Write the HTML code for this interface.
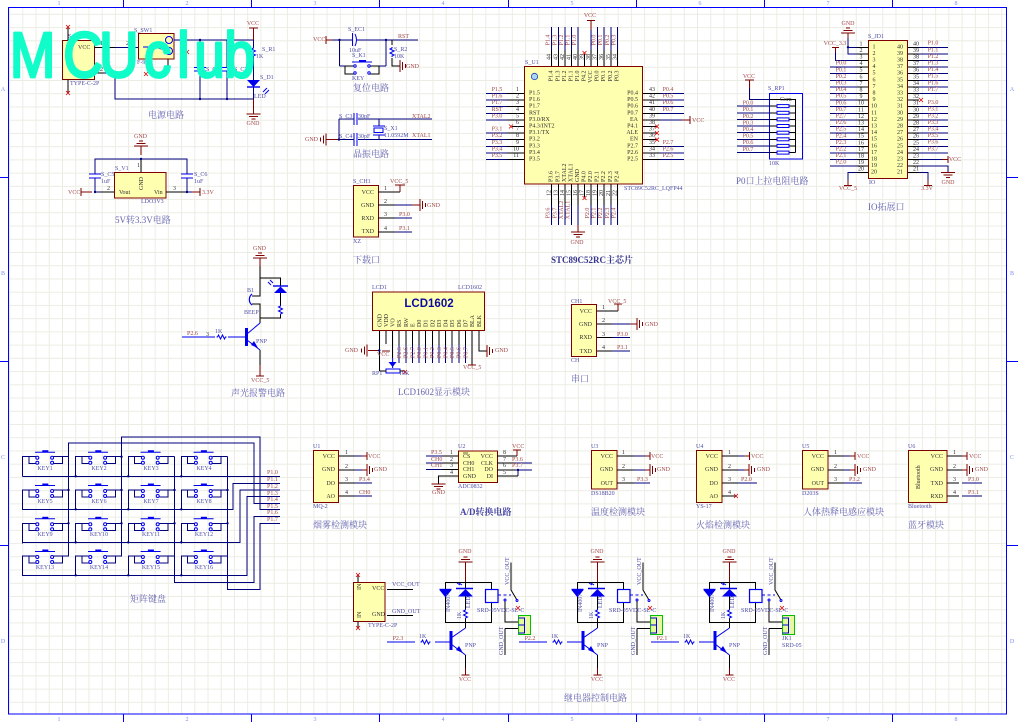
<!DOCTYPE html>
<html><head><meta charset="utf-8"><style>
html,body{margin:0;padding:0;background:#fff}
svg{display:block}
text{font-family:"Liberation Serif","Noto Serif CJK SC",serif;font-size:6px}
.n text,text.n{fill:#a04848}
.d text,text.d{fill:#5050a8}
.l text,text.l{fill:#303030}
.h text,text.h{fill:#6464b0;font-size:9px}
.f text{fill:#7a90f0;font-size:6px}
.w{stroke:#00007f;fill:none;stroke-width:1;shape-rendering:crispEdges}
.k{stroke:#000;fill:none;stroke-width:1;shape-rendering:crispEdges}
.m{stroke:#7f0000;fill:none;stroke-width:1;shape-rendering:crispEdges}
.b{stroke:#0000ee;fill:none;stroke-width:1}
.x{stroke:#e00000;fill:none;stroke-width:.8}
.y{fill:#ffffb0;stroke:#7f0000;stroke-width:1;shape-rendering:crispEdges}
.j{fill:#00007f}
.tb{fill:#0000ee;stroke:none}
</style></head><body>
<svg width="1018" height="722" viewBox="0 0 1018 722" xmlns="http://www.w3.org/2000/svg">
<defs>
<pattern id="g" x="9.07" y="0.64" width="13.23" height="13.23" patternUnits="userSpaceOnUse"><path d="M0 .5H13.23M.5 0V13.23" stroke="#ecece4" fill="none"/></pattern>
<path id="gd" class="m" d="M-7 0H7M-4.5 2.5H4.5M-2 5H2"/>
<path id="gu" class="m" d="M-7 0H7M-4.5 -2.5H4.5M-2 -5H2"/>
<path id="gr" class="m" d="M0 -6V6M2.7 -4V4M5.4 -2V2"/>
<path id="gl" class="m" d="M0 -6V6M-2.7 -4V4M-5.4 -2V2"/>
<path id="rh" class="b" d="M-5 0H-4L-3 -2L-1 2L1 -2L3 2L4 0H5"/>
<path id="rv" class="b" d="M0 -5V-4L-2 -3L2 -1L-2 1L2 3L0 4V5"/>
<path id="xx" class="x" d="M-2 -2L2 2M-2 2L2 -2"/>
<circle id="dot" r="1.2" class="j"/>
<g id="key">
<path class="w" d="M0 20V0H14M6.3 0V7H14M31 0H46.3M39.6 0V7H31"/>
<path class="b" d="M12.3 -4.5H32.3"/><path class="b" stroke-width="2" d="M19.6 -5.5H25.6" style="stroke-width:2"/>
<g class="b" style="fill:#fff"><circle cx="14.6" cy="1" r="1.5"/><circle cx="14.6" cy="6" r="1.5"/><circle cx="29.4" cy="1" r="1.5"/><circle cx="29.4" cy="6" r="1.5"/></g>
</g>
<g id="relay">
<path class="m" d="M465.5 562V582"/>
<path class="k" d="M445.5 597V622.5H491.5V602.5M491.5 589.5V582.3H445.5V590M465.5 582.3V589M465.5 596V610M465.5 618V628M465.5 655V675"/>
<path class="m" d="M465.5 668V675"/>
<use href="#gu" x="465.5" y="562"/>
<path class="m" d="M461.5 675H469.5"/>
<path class="tb" d="M439.5 590H451.5L445.5 597.5Z"/><path class="b" d="M439.5 589.5H451.5" style="stroke-width:1.4"/>
<path class="tb" d="M465.5 589L473 596.5H458Z"/><path class="b" d="M456 588.5H473" style="stroke-width:1.4"/>
<path class="b" d="M457 583L460 585M459 583L462 585"/>
<rect class="b" x="485.5" y="589.5" width="12.5" height="13" style="stroke-width:1.2"/>
<use href="#rv" x="465.5" y="614"/>
<path class="b" style="stroke-width:3" d="M451 631V650"/>
<path class="b" d="M387 642H415M435 642H451M451 638L465.5 628M451 644L465.5 655"/>
<path class="tb" d="M463 653L456 650L459 646Z"/>
<use href="#rh" x="425.5" y="642"/>
<path class="b" style="stroke-dasharray:3 2.5" d="M498 595H511"/>
<path stroke="#000" fill="none" d="M511 562.5V590L517 600"/>
<path class="k" d="M505 601V622H518.5M505 628.5H518.5M505 628.5V655"/>
<circle class="b" cx="505" cy="600" r="1" style="fill:#fff"/><circle class="b" cx="517" cy="600.5" r="1" style="fill:#fff"/>
<use href="#xx" x="518" y="608"/>
<rect x="518.5" y="615.5" width="12" height="19" fill="#e8f8a0" stroke="#00c000" stroke-width="1"/>
<path class="b" d="M518.5 618H524.5V633H518.5M518.5 625H524.5"/>
</g>
</defs>

<rect width="1018" height="722" fill="#fff"/>
<rect x="8.5" y="7.5" width="998" height="706.5" fill="url(#g)" stroke="#0000ff" stroke-width="1"/>
<path stroke="#0000ff" fill="none" d="M123.5 0V7M251.5 0V7M379.5 0V7M508.5 0V7M636.5 0V7M764.5 0V7M892.5 0V7M123.5 714V722M251.5 714V722M379.5 714V722M508.5 714V722M636.5 714V722M764.5 714V722M892.5 714V722M0 177.5H8M0 361.5H8M0 545.5H8M1006 177.5H1018M1006 361.5H1018M1006 545.5H1018"/>
<g class="f" text-anchor="middle">
<text x="59" y="5">1</text><text x="187" y="5">2</text><text x="315" y="5">3</text><text x="443" y="5">4</text><text x="572" y="5">5</text><text x="700" y="5">6</text><text x="828" y="5">7</text><text x="956" y="5">8</text>
<text x="59" y="721">1</text><text x="187" y="721">2</text><text x="315" y="721">3</text><text x="443" y="721">4</text><text x="572" y="721">5</text><text x="700" y="721">6</text><text x="828" y="721">7</text><text x="956" y="721">8</text>
<text x="3" y="91">A</text><text x="3" y="275">B</text><text x="3" y="459">C</text><text x="3" y="643">D</text>
<text x="1012" y="91">A</text><text x="1012" y="275">B</text><text x="1012" y="459">C</text><text x="1012" y="643">D</text>
</g>

<!-- power -->
<rect class="y" x="62.5" y="40.5" width="32" height="39"/>
<rect class="y" x="138.5" y="33.5" width="35.5" height="25.5"/>
<path class="w" d="M94.5 47.5H138M94.5 73H115V99H254M174 40H254M200 40V67.5M200 71V99M227 40V67.5M227 71V99"/>
<path class="k" d="M68 27V40M68 80V93M94.5 47.5H115M94.5 73H104M168 59V70"/>
<path class="b" d="M194 67.5H206M194 71H206M222 67.5H232M222 71H232M143 47H155L165 50"/>
<circle class="b" cx="169" cy="40" r="3.5"/><circle class="b" cx="169" cy="51" r="3.5"/>
<use href="#dot" x="200" y="40"/><use href="#dot" x="200" y="99"/><use href="#dot" x="227" y="99"/>
<use href="#xx" x="68" y="27"/><use href="#xx" x="68" y="93"/><use href="#xx" x="146" y="74"/><use href="#xx" x="187" y="52"/>
<path class="m" d="M249 28H258M253.5 28V40M253.5 99V114"/>
<path class="w" d="M253.5 40V47M253.5 57V99"/>
<use href="#rv" x="253.5" y="52"/>
<path class="tb" d="M247 80H260L253.5 87Z"/><path class="b" d="M247 87H260" style="stroke-width:1.4"/>
<path class="b" d="M263 92L267 88M265 94L269 90"/>
<use href="#gd" x="253.5" y="114"/>
<g class="d"><text x="68" y="38">S_T1</text><text x="134" y="32">S_SW1</text><text x="70" y="85">TYPE-C-2P</text><text x="137" y="64">F-90</text><text x="206" y="71">S_C1</text><text x="234" y="71">S_C7</text><text x="262" y="51">S_R1</text><text x="256" y="58">1K</text><text x="260" y="79">S_D1</text><text x="254" y="98">LED</text></g>
<g class="l"><text x="78" y="49">VCC</text><text x="100" y="45">1</text><text x="126" y="45">2</text><text x="100" y="71">2</text></g>
<g class="n" text-anchor="middle"><text x="253" y="25">VCC</text><text x="253" y="125">GND</text></g>
<text class="h" x="148" y="118">电源电路</text>

<!-- LDO -->
<rect class="y" x="114.5" y="172.5" width="51.5" height="25.5"/>
<path class="w" d="M95 192V178M95 174V159H187V174M187 178V192M95 192H114M166 192H200M141 159V172"/>
<path class="k" d="M100 192H114M166 192H187M141 160V172"/>
<path class="b" d="M89 174H101M89 178H101M181 174H193M181 178H193"/>
<path class="m" d="M81 188V196M81 192H92M200 188V196M192 192H200M141 146V155"/>
<use href="#gu" x="141" y="146"/>
<use href="#dot" x="141" y="159"/><use href="#dot" x="95" y="192"/><use href="#dot" x="187" y="192"/>
<g class="d"><text x="115" y="170">S_V1</text><text x="141" y="203">LDO3V3</text><text x="101" y="176">S_C5</text><text x="101" y="183">1uF</text><text x="194" y="176">S_C6</text><text x="194" y="183">1uF</text></g>
<g class="l"><text x="119" y="194">Vout</text><text x="154" y="194">Vin</text><text x="107" y="190">2</text><text x="173" y="190">3</text><text x="137" y="167">1</text><text transform="translate(143 190) rotate(-90)">GND</text></g>
<g class="n"><text x="68" y="194">VCC</text><text x="202" y="194">3.3V</text><text x="134" y="138">GND</text></g>
<text class="h" x="115" y="223">5V转3.3V电路</text>

<!-- reset -->
<path class="m" d="M326 36V44M326 40H338"/>
<path class="w" d="M332 40H352M357 40H418M339.5 40V66M386 40V66M339.5 66H345M379 66H386"/>
<path class="k" d="M345 66H354M345 66V74H354M369 66H379V74H369M392 40V45M392 58V66H400"/>
<path class="b" d="M352.5 33V46M355 34Q358 40 355 46M352 62H372"/>
<path class="b" style="stroke-width:2" d="M359 61H366"/>
<g class="b" style="fill:#fff"><circle cx="355" cy="66" r="1.2"/><circle cx="355" cy="73" r="1.2"/><circle cx="369" cy="66" r="1.2"/><circle cx="369" cy="73" r="1.2"/></g>
<use href="#rv" x="392" y="52"/>
<use href="#gr" x="400" y="66"/>
<use href="#dot" x="339.5" y="40"/><use href="#dot" x="386" y="40"/>
<g class="d"><text x="348" y="31">S_EC1</text><text x="349" y="52">10uF</text><text x="352" y="57">S_K1</text><text x="352" y="80">KEY</text><text x="394" y="51">S_R2</text><text x="394" y="58">10K</text></g>
<g class="n"><text x="313" y="41">VCC</text><text x="398" y="38">RST</text><text x="406" y="68">GND</text></g>
<text class="h" x="353" y="91">复位电路</text>

<!-- crystal -->
<path class="w" d="M339 119H354M358 119H432M339 119V139.5M326 139.5H354M358 139.5H432M379 119V126M379 135V139.5"/>
<path class="b" d="M354 113V125M357 113V125M354 133V146M357 133V146M373 126H385M373 135H385"/>
<rect class="b" x="374" y="128" width="9" height="4.5"/>
<use href="#gl" x="326" y="139.5"/><path class="m" d="M326 139.5H339"/>
<use href="#dot" x="339" y="139.5"/>
<g class="d"><text x="339" y="118">S_C3</text><text x="358" y="118">30pF</text><text x="339" y="138">S_C4</text><text x="358" y="138">30pF</text><text x="384" y="130">S_X1</text><text x="384" y="137">11.0592M</text></g>
<g class="n"><text x="412" y="118">XTAL2</text><text x="412" y="137">XTAL1</text><text x="305" y="141">GND</text></g>
<text class="h" x="353" y="157">晶振电路</text>

<!-- download -->
<rect class="y" x="353.5" y="185.5" width="25" height="51.5"/>
<path class="k" d="M378 192H400M378 205H395M378 218H395M378 232H395"/>
<path class="w" d="M395 205H420M395 218H412M395 232H412"/>
<path class="m" d="M395 185H405M400 185V192M412 205H420"/>
<use href="#gr" x="420" y="205"/>
<g class="d"><text x="353" y="183">S_CH1</text><text x="353" y="243">XZ</text></g>
<g class="l" text-anchor="end"><text x="374" y="194">VCC</text><text x="374" y="207">GND</text><text x="374" y="220">RXD</text><text x="374" y="233">TXD</text></g>
<g class="l"><text x="384" y="190">1</text><text x="384" y="203">2</text><text x="384" y="216">3</text><text x="384" y="230">4</text></g>
<g class="n"><text x="390" y="183">VCC_5</text><text x="427" y="207">GND</text><text x="399" y="216">P3.0</text><text x="399" y="230">P3.1</text></g>
<text class="h" x="353" y="263">下载口</text>

<!-- MCU -->
<rect class="y" x="524.5" y="66.5" width="118" height="117.5"/>
<circle cx="534.5" cy="76.5" r="3.2" fill="#a8d8f8" stroke="#2040c0" stroke-width=".8"/>
<path class="w" d="M486 93.5H507M486 100.1H507M486 106.7H507M486 113.3H507M486 119.9H507M486 133.1H507M486 139.7H507M486 146.3H507M486 152.9H507M486 159.5H507M660 93.5H684M660 100.1H684M660 106.7H684M660 113.3H684M660 146.3H684M660 152.9H684M660 159.5H684M660 119.9H682"/>
<path class="k" d="M507 93.5H524M507 100.1H524M507 106.7H524M507 113.3H524M507 119.9H524M512 126.5H524M507 133.1H524M507 139.7H524M507 146.3H524M507 152.9H524M507 159.5H524M643 93.5H660M643 100.1H660M643 106.7H660M643 113.3H660M643 119.9H660M643 126.5H657M643 133.1H657M643 139.7H657M643 146.3H660M643 152.9H660M643 159.5H660"/>
<path class="m" d="M682 119.9H690M690 116V124M587 20.5H595M591.1 20.5V30"/>
<use href="#xx" x="511" y="126.5"/><use href="#xx" x="657" y="126.5"/><use href="#xx" x="657" y="133.1"/><use href="#xx" x="657" y="139.7"/>
<path class="w" d="M551.7 27V50M558.3 27V50M564.8 27V50M571.4 27V50M578 27V50M597.6 27V50M604.2 27V50M610.8 27V50M617.3 27V50M591.1 30V50M551.7 205V225M558.3 205V225M564.8 205V225M571.4 205V225M578 205V225M591.1 205V225M597.6 205V225M604.2 205V225M610.8 205V225M617.3 205V225"/>
<path class="k" d="M551.7 50V66M558.3 50V66M564.8 50V66M571.4 50V66M578 50V66M584.5 54V66M591.1 50V66M597.6 50V66M604.2 50V66M610.8 50V66M617.3 50V66M551.7 184V205M558.3 184V205M564.8 184V205M571.4 184V205M578 184V205M584.5 184V197M591.1 184V205M597.6 184V205M604.2 184V205M610.8 184V205M617.3 184V205"/>
<path class="m" d="M578 225V232"/><use href="#gd" x="578" y="232"/>
<use href="#xx" x="584.5" y="53"/><use href="#xx" x="584.5" y="198"/>
<g class="d"><text x="525" y="64">S_U1</text><text x="624" y="190">STC89C52RC_LQFP44</text></g>
<g class="n" text-anchor="middle">
<text x="590" y="17">VCC</text><text x="577" y="244">GND</text><text x="692" y="122" text-anchor="start">VCC</text>
<text x="497" y="91">P1.5</text><text x="497" y="97.6">P1.6</text><text x="497" y="104.2">P1.7</text><text x="497" y="110.8">RST</text><text x="497" y="117.4">P3.0</text><text x="497" y="130.6">P3.1</text><text x="497" y="137.2">P3.2</text><text x="497" y="143.8">P3.3</text><text x="497" y="150.4">P3.4</text><text x="497" y="157">P3.5</text>
<text x="668" y="91">P0.4</text><text x="668" y="97.6">P0.5</text><text x="668" y="104.2">P0.6</text><text x="668" y="110.8">P0.7</text><text x="668" y="143.8">P2.7</text><text x="668" y="150.4">P2.6</text><text x="668" y="157">P2.5</text>
<text transform="translate(549.7 40) rotate(-90)">P1.4</text><text transform="translate(556.3 40) rotate(-90)">P1.3</text><text transform="translate(562.8 40) rotate(-90)">P1.2</text><text transform="translate(569.4 40) rotate(-90)">P1.1</text><text transform="translate(576 40) rotate(-90)">P1.0</text><text transform="translate(595.6 40) rotate(-90)">P0.0</text><text transform="translate(602.2 40) rotate(-90)">P0.1</text><text transform="translate(608.8 40) rotate(-90)">P0.2</text><text transform="translate(615.3 40) rotate(-90)">P0.3</text>
<text transform="translate(549.7 213) rotate(-90)">P3.6</text><text transform="translate(556.3 213) rotate(-90)">P3.7</text><text transform="translate(562.8 210) rotate(-90)">XTAL2</text><text transform="translate(569.4 210) rotate(-90)">XTAL1</text><text transform="translate(589.1 213) rotate(-90)">P2.0</text><text transform="translate(595.6 213) rotate(-90)">P2.1</text><text transform="translate(602.2 213) rotate(-90)">P2.2</text><text transform="translate(608.8 213) rotate(-90)">P2.3</text><text transform="translate(615.3 213) rotate(-90)">P2.4</text>
</g>
<g class="l">
<text x="529" y="94.5">P1.5</text><text x="529" y="101.1">P1.6</text><text x="529" y="107.7">P1.7</text><text x="529" y="114.3">RST</text><text x="529" y="120.9">P3.0/RX</text><text x="529" y="127.5">P4.3/INT2</text><text x="529" y="134.1">P3.1/TX</text><text x="529" y="140.7">P3.2</text><text x="529" y="147.3">P3.3</text><text x="529" y="153.9">P3.4</text><text x="529" y="160.5">P3.5</text>
<g text-anchor="end"><text x="638" y="94.5">P0.4</text><text x="638" y="101.1">P0.5</text><text x="638" y="107.7">P0.6</text><text x="638" y="114.3">P0.7</text><text x="638" y="120.9">EA</text><text x="638" y="127.5">P4.1</text><text x="638" y="134.1">ALE</text><text x="638" y="140.7">EN</text><text x="638" y="147.3">P2.7</text><text x="638" y="153.9">P2.6</text><text x="638" y="160.5">P2.5</text>
<text x="519" y="91">1</text><text x="519" y="97.6">2</text><text x="519" y="104.2">3</text><text x="519" y="110.8">4</text><text x="519" y="117.4">5</text><text x="519" y="124">6</text><text x="519" y="130.6">7</text><text x="519" y="137.2">8</text><text x="519" y="143.8">9</text><text x="519" y="150.4">10</text><text x="519" y="157">11</text>
<text x="655" y="91">43</text><text x="655" y="97.6">42</text><text x="655" y="104.2">41</text><text x="655" y="110.8">40</text><text x="655" y="117.4">39</text><text x="655" y="124">38</text><text x="655" y="130.6">37</text><text x="655" y="137.2">36</text><text x="655" y="143.8">35</text><text x="655" y="150.4">34</text><text x="655" y="157">33</text>
<text transform="translate(552.7 70.5) rotate(-90)">P1.4</text><text transform="translate(559.3 70.5) rotate(-90)">P1.3</text><text transform="translate(565.8 70.5) rotate(-90)">P1.2</text><text transform="translate(572.4 70.5) rotate(-90)">P1.1</text><text transform="translate(579 70.5) rotate(-90)">P1.0</text><text transform="translate(585.5 70.5) rotate(-90)">P4.2</text><text transform="translate(592.1 70.5) rotate(-90)">VCC</text><text transform="translate(598.6 70.5) rotate(-90)">P0.0</text><text transform="translate(605.2 70.5) rotate(-90)">P0.1</text><text transform="translate(611.8 70.5) rotate(-90)">P0.2</text><text transform="translate(618.3 70.5) rotate(-90)">P0.3</text>
</g>
<text transform="translate(552.7 182) rotate(-90)">P3.6</text><text transform="translate(559.3 182) rotate(-90)">P3.7</text><text transform="translate(565.8 182) rotate(-90)">XTAL2</text><text transform="translate(572.4 182) rotate(-90)">XTAL1</text><text transform="translate(579 182) rotate(-90)">GND</text><text transform="translate(585.5 182) rotate(-90)">P4.0</text><text transform="translate(592.1 182) rotate(-90)">P2.0</text><text transform="translate(598.6 182) rotate(-90)">P2.1</text><text transform="translate(605.2 182) rotate(-90)">P2.2</text><text transform="translate(611.8 182) rotate(-90)">P2.3</text><text transform="translate(618.3 182) rotate(-90)">P2.4</text>
<g text-anchor="middle">
<text transform="translate(550.7 57) rotate(-90)">44</text><text transform="translate(557.3 57) rotate(-90)">43</text><text transform="translate(563.8 57) rotate(-90)">42</text><text transform="translate(570.4 57) rotate(-90)">41</text><text transform="translate(577 57) rotate(-90)">40</text><text transform="translate(583.5 57) rotate(-90)">39</text><text transform="translate(590.1 57) rotate(-90)">38</text><text transform="translate(596.6 57) rotate(-90)">37</text><text transform="translate(603.2 57) rotate(-90)">36</text><text transform="translate(609.8 57) rotate(-90)">35</text><text transform="translate(616.3 57) rotate(-90)">34</text>
<text transform="translate(550.7 193) rotate(-90)">12</text><text transform="translate(557.3 193) rotate(-90)">13</text><text transform="translate(563.8 193) rotate(-90)">14</text><text transform="translate(570.4 193) rotate(-90)">15</text><text transform="translate(577 193) rotate(-90)">16</text><text transform="translate(583.5 193) rotate(-90)">17</text><text transform="translate(590.1 193) rotate(-90)">18</text><text transform="translate(596.6 193) rotate(-90)">19</text><text transform="translate(603.2 193) rotate(-90)">20</text><text transform="translate(609.8 193) rotate(-90)">21</text><text transform="translate(616.3 193) rotate(-90)">22</text>
</g>
</g>
<text class="h" x="551" y="263" style="fill:#34348c;font-weight:bold">STC89C52RC主芯片</text>

<!-- RP1 -->
<rect class="b" x="769.5" y="93.5" width="33" height="65.5" style="stroke-width:1"/>
<path class="m" d="M745 80H754M749.5 80V88"/>
<path class="w" d="M749.5 88V99.5H770M737 106.1H770M737 112.8H770M737 119.4H770M737 126H770M737 132.7H770M737 139.3H770M737 145.9H770M737 152.6H770"/>
<path class="k" d="M770 99.5H795.5V152.6M770 106.1H777M770 112.8H777M770 119.4H777M770 126H777M770 132.7H777M770 139.3H777M770 145.9H777M770 152.6H777M789 106.1H795.5M789 112.8H795.5M789 119.4H795.5M789 126H795.5M789 132.7H795.5M789 139.3H795.5M789 145.9H795.5M789 152.6H795.5"/>
<g class="b"><rect x="777" y="104.6" width="12" height="3"/><rect x="777" y="111.3" width="12" height="3"/><rect x="777" y="117.9" width="12" height="3"/><rect x="777" y="124.5" width="12" height="3"/><rect x="777" y="131.2" width="12" height="3"/><rect x="777" y="137.8" width="12" height="3"/><rect x="777" y="144.4" width="12" height="3"/><rect x="777" y="151.1" width="12" height="3"/></g>
<g class="d"><text x="768" y="90">S_RP1</text><text x="769" y="165">10K</text></g>
<text class="l" x="780" y="101">Com</text>
<g class="n" text-anchor="middle"><text x="749" y="78">VCC</text><text x="748" y="104.6">P0.0</text><text x="748" y="111.2">P0.1</text><text x="748" y="117.8">P0.2</text><text x="748" y="124.4">P0.3</text><text x="748" y="131">P0.4</text><text x="748" y="137.6">P0.5</text><text x="748" y="144.2">P0.6</text><text x="748" y="150.8">P0.7</text></g>
<text class="h" x="736" y="184">P0口上拉电阻电路</text>

<!-- JD1 -->
<rect class="y" x="868.5" y="40.5" width="39" height="138"/>
<path class="w" d="M830 67.1H857M830 73.7H857M830 80.3H857M830 86.9H857M830 93.5H857M830 100.1H857M830 106.7H857M830 113.3H857M830 119.9H857M830 126.5H857M830 133.1H857M830 139.7H857M830 146.3H857M830 152.9H857M830 159.5H857M830 166.1H857M919 47.3H948M919 53.9H948M919 60.5H948M919 67.1H948M919 73.7H948M919 80.3H948M919 86.9H948M919 93.5H948M919 106.7H948M919 113.3H948M919 119.9H948M919 126.5H948M919 133.1H948M919 139.7H948M919 146.3H948M919 152.9H948M919 159.5H942M919 166.1H948V172M848 38V53.9H857M848 47.3H857M835.5 52V60.5H857M857 172.7H848V180M919 172.7H928V180"/>
<path class="k" d="M857 47.3H868M857 53.9H868M857 60.5H868M857 67.1H868M857 73.7H868M857 80.3H868M857 86.9H868M857 93.5H868M857 100.1H868M857 106.7H868M857 113.3H868M857 119.9H868M857 126.5H868M857 133.1H868M857 139.7H868M857 146.3H868M857 152.9H868M857 159.5H868M857 166.1H868M857 172.7H868M908 47.3H919M908 53.9H919M908 60.5H919M908 67.1H919M908 73.7H919M908 80.3H919M908 86.9H919M908 93.5H919M908 100.1H919M908 106.7H919M908 113.3H919M908 119.9H919M908 126.5H919M908 133.1H919M908 139.7H919M908 146.3H919M908 152.9H919M908 159.5H919M908 166.1H919M908 172.7H919"/>
<use href="#dot" x="848" y="47.3"/><use href="#xx" x="921" y="100"/>
<use href="#gu" x="848" y="33"/>
<use href="#gd" x="948" y="172.5"/>
<path class="m" d="M848 33V38M832 47.5H839M835.5 47.5V52M844 185.5H852M848 180V185.5M924 185.5H932M928 180V185.5M942 159.5H948M948 156V163"/>
<g class="d"><text x="868" y="38">S_JD1</text><text x="869" y="184">IO</text></g>
<g class="n" text-anchor="middle"><text x="848" y="25">GND</text><text x="835" y="45">VCC_3.3</text><text x="948" y="184">GND</text><text x="848" y="190">VCC_5</text><text x="927" y="190">3.3V</text><text x="955" y="161">VCC</text>
<text x="841" y="64.7">P0.0</text><text x="841" y="71.3">P0.1</text><text x="841" y="77.9">P0.2</text><text x="841" y="84.5">P0.3</text><text x="841" y="91.1">P0.4</text><text x="841" y="97.7">P0.5</text><text x="841" y="104.3">P0.6</text><text x="841" y="110.9">P0.7</text><text x="841" y="117.5">P2.7</text><text x="841" y="124.1">P2.6</text><text x="841" y="130.7">P2.5</text><text x="841" y="137.3">P2.4</text><text x="841" y="143.9">P2.3</text><text x="841" y="150.5">P2.2</text><text x="841" y="157.1">P2.1</text><text x="841" y="163.7">P2.0</text>
<text x="933" y="44.7">P1.0</text><text x="933" y="51.3">P1.1</text><text x="933" y="57.9">P1.2</text><text x="933" y="64.5">P1.3</text><text x="933" y="71.1">P1.4</text><text x="933" y="77.7">P1.5</text><text x="933" y="84.3">P1.6</text><text x="933" y="90.9">P1.7</text><text x="933" y="104.1">P3.0</text><text x="933" y="110.7">P3.1</text><text x="933" y="117.3">P3.2</text><text x="933" y="123.9">P3.3</text><text x="933" y="130.5">P3.4</text><text x="933" y="137.1">P3.5</text><text x="933" y="143.7">P3.6</text><text x="933" y="150.3">P3.7</text></g>
<g class="l" text-anchor="middle">
<text x="874" y="48.3">1</text><text x="874" y="54.9">2</text><text x="874" y="61.5">3</text><text x="874" y="68.1">4</text><text x="874" y="74.7">5</text><text x="874" y="81.3">6</text><text x="874" y="87.9">7</text><text x="874" y="94.5">8</text><text x="874" y="101.1">9</text><text x="874" y="107.7">10</text><text x="874" y="114.3">11</text><text x="874" y="120.9">12</text><text x="874" y="127.5">13</text><text x="874" y="134.1">14</text><text x="874" y="140.7">15</text><text x="874" y="147.3">16</text><text x="874" y="153.9">17</text><text x="874" y="160.5">18</text><text x="874" y="167.1">19</text><text x="874" y="173.7">20</text>
<text x="900" y="48.3">40</text><text x="900" y="54.9">39</text><text x="900" y="61.5">38</text><text x="900" y="68.1">37</text><text x="900" y="74.7">36</text><text x="900" y="81.3">35</text><text x="900" y="87.9">34</text><text x="900" y="94.5">33</text><text x="900" y="101.1">32</text><text x="900" y="107.7">31</text><text x="900" y="114.3">30</text><text x="900" y="120.9">29</text><text x="900" y="127.5">28</text><text x="900" y="134.1">27</text><text x="900" y="140.7">26</text><text x="900" y="147.3">25</text><text x="900" y="153.9">24</text><text x="900" y="160.5">23</text><text x="900" y="167.1">22</text><text x="900" y="173.7">21</text>
<text x="861" y="45.3">1</text><text x="861" y="51.9">2</text><text x="861" y="58.5">3</text><text x="861" y="65.1">4</text><text x="861" y="71.7">5</text><text x="861" y="78.3">6</text><text x="861" y="84.9">7</text><text x="861" y="91.5">8</text><text x="861" y="98.1">9</text><text x="861" y="104.7">10</text><text x="861" y="111.3">11</text><text x="861" y="117.9">12</text><text x="861" y="124.5">13</text><text x="861" y="131.1">14</text><text x="861" y="137.7">15</text><text x="861" y="144.3">16</text><text x="861" y="150.9">17</text><text x="861" y="157.5">18</text><text x="861" y="164.1">19</text><text x="861" y="170.7">20</text>
<text x="916" y="45.3">40</text><text x="916" y="51.9">39</text><text x="916" y="58.5">38</text><text x="916" y="65.1">37</text><text x="916" y="71.7">36</text><text x="916" y="78.3">35</text><text x="916" y="84.9">34</text><text x="916" y="91.5">33</text><text x="916" y="98.1">32</text><text x="916" y="104.7">31</text><text x="916" y="111.3">30</text><text x="916" y="117.9">29</text><text x="916" y="124.5">28</text><text x="916" y="131.1">27</text><text x="916" y="137.7">26</text><text x="916" y="144.3">25</text><text x="916" y="150.9">24</text><text x="916" y="157.5">23</text><text x="916" y="164.1">22</text><text x="916" y="170.7">21</text>
</g>
<text class="h" x="868" y="210">IO拓展口</text>

<!-- beeper -->
<use href="#gu" x="260" y="258"/>
<path class="m" d="M260 258V266M256 376H264M260 365V376"/>
<path class="k" d="M260 266V296H252M252 304H260V318M260 278H280.5V286M280.5 293V305M280.5 315V318H260V323M260 350V365"/>
<path class="b" d="M252 294A7 7 0 0 0 252 305" style="stroke-width:1.2"/>
<path class="b" d="M268 282L271 285M270 280L273 283"/>
<path class="tb" d="M280.5 286.5L287 293H274Z"/><path class="b" d="M273 286H288" style="stroke-width:1.4"/>
<use href="#rv" x="280.5" y="310"/>
<path class="b" style="stroke-width:3" d="M246.5 328V346"/>
<path class="b" d="M182 337H215M228 337H246M247 334L260 323M247 340L260 350"/>
<path class="tb" d="M258 348L251 345L254 341Z"/>
<use href="#rh" x="221.5" y="337"/>
<g class="d"><text x="247" y="292">B1</text><text x="244" y="314">BEEP</text><text x="215" y="333">1K</text><text x="256" y="343">PNP</text></g>
<g class="n"><text x="253" y="250">GND</text><text x="251" y="382">VCC_5</text><text x="187" y="335">P2.6</text></g>
<g class="l"><text x="206" y="336">3</text></g>
<text class="h" x="231" y="396">声光报警电路</text>

<!-- LCD -->
<rect class="y" x="372.5" y="292" width="112" height="38.5"/>
<text x="429" y="307" text-anchor="middle" style="font-family:'Liberation Sans',sans-serif;font-weight:bold;font-size:11.5px;fill:#0a0aa0">LCD1602</text>
<g class="k"><path d="M379.3 331V371M385.9 331V344M392.6 331V358M399.2 331V345M405.8 331V345M412.5 331V345M419.1 331V345M425.7 331V345M432.3 331V345M439 331V345M445.6 331V345M452.2 331V345M458.9 331V345M465.5 331V345M472.1 331V365M478.8 331V351H487"/></g>
<path class="w" d="M399.2 345V363M405.8 345V363M412.5 345V363M419.1 345V363M425.7 345V363M432.3 345V363M439 345V363M445.6 345V363M452.2 345V363M458.9 345V363M465.5 345V363"/>
<path class="m" d="M368 350.5H379M382 351H390M468 365H476"/>
<use href="#gl" x="367" y="350.5"/><use href="#gr" x="487" y="351"/>
<use href="#dot" x="379.3" y="350.5"/>
<rect class="b" x="386" y="369" width="14" height="4"/>
<path class="tb" d="M388.5 362H396.5L392.6 367Z"/><path class="b" d="M392.6 358V368"/>
<path class="k" d="M379.3 371H386M400 371H405"/>
<use href="#xx" x="405" y="372"/>
<g class="d"><text x="372" y="289">LCD1</text><text x="458" y="289">LCD1602</text><text x="372" y="375">RP1</text><text x="399" y="375">10K</text></g>
<g class="n"><text x="345" y="352">GND</text><text x="377" y="356">VCC</text><text x="495" y="352">GND</text><text x="463" y="369">VCC_5</text>
<text transform="translate(401 358) rotate(-90)">P2.5</text><text transform="translate(407.6 358) rotate(-90)">P2.6</text><text transform="translate(414.3 358) rotate(-90)">P2.7</text><text transform="translate(420.9 358) rotate(-90)">P0.0</text><text transform="translate(427.5 358) rotate(-90)">P0.1</text><text transform="translate(434.1 358) rotate(-90)">P0.2</text><text transform="translate(440.8 358) rotate(-90)">P0.3</text><text transform="translate(447.4 358) rotate(-90)">P0.4</text><text transform="translate(454 358) rotate(-90)">P0.5</text><text transform="translate(460.7 358) rotate(-90)">P0.6</text><text transform="translate(467.3 358) rotate(-90)">P0.7</text></g>
<g class="l"><text transform="translate(381.3 327) rotate(-90)">GND</text><text transform="translate(387.9 327) rotate(-90)">VDD</text><text transform="translate(394.6 327) rotate(-90)">VO</text><text transform="translate(401.2 327) rotate(-90)">RS</text><text transform="translate(407.8 327) rotate(-90)">RW</text><text transform="translate(414.5 327) rotate(-90)">E</text><text transform="translate(421.1 327) rotate(-90)">D0</text><text transform="translate(427.7 327) rotate(-90)">D1</text><text transform="translate(434.3 327) rotate(-90)">D2</text><text transform="translate(441 327) rotate(-90)">D3</text><text transform="translate(447.6 327) rotate(-90)">D4</text><text transform="translate(454.2 327) rotate(-90)">D5</text><text transform="translate(460.9 327) rotate(-90)">D6</text><text transform="translate(467.5 327) rotate(-90)">D7</text><text transform="translate(474.1 327) rotate(-90)">BLA</text><text transform="translate(480.8 327) rotate(-90)">BLK</text></g>
<text class="h" x="398" y="395">LCD1602显示模块</text>

<!-- CH1 -->
<rect class="y" x="571.5" y="304.5" width="25" height="52"/>
<path class="k" d="M597 311H618M597 324H612M597 337.5H612M597 351H612"/>
<path class="w" d="M612 324H630M612 337.5H630M612 351H630"/>
<path class="m" d="M614 304H622M618 304V311M630 324H637"/>
<use href="#gr" x="637" y="324"/>
<g class="d"><text x="571" y="303">CH1</text><text x="571" y="362">CH</text></g>
<g class="l" text-anchor="end"><text x="592" y="313">VCC</text><text x="592" y="326">GND</text><text x="592" y="339">RXD</text><text x="592" y="353">TXD</text></g>
<g class="l"><text x="602" y="309">1</text><text x="602" y="322">2</text><text x="602" y="336">3</text><text x="602" y="349">4</text></g>
<g class="n"><text x="608" y="303">VCC_5</text><text x="645" y="326">GND</text><text x="617" y="336">P3.0</text><text x="617" y="349">P3.1</text></g>
<text class="h" x="571" y="382">串口</text>

<!-- keypad -->
<use href="#key" x="22.7" y="456.7"/><use href="#key" x="75.7" y="456.7"/><use href="#key" x="128.3" y="456.7"/><use href="#key" x="181.3" y="456.7"/>
<use href="#key" x="22.7" y="490"/><use href="#key" x="75.7" y="490"/><use href="#key" x="128.3" y="490"/><use href="#key" x="181.3" y="490"/>
<use href="#key" x="22.7" y="523.3"/><use href="#key" x="75.7" y="523.3"/><use href="#key" x="128.3" y="523.3"/><use href="#key" x="181.3" y="523.3"/>
<use href="#key" x="22.7" y="556"/><use href="#key" x="75.7" y="556"/><use href="#key" x="128.3" y="556"/><use href="#key" x="181.3" y="556"/>
<path class="w" d="M22.7 476.3H280M22.7 509.3H233V483.3H280M22.7 542.3H240V490H280M22.7 575.3H247V496.7H280M68.5 556V443H254V503.3H280M121.5 556V437H260V509.3H280M174.5 456.7V582.3H254V516.7H280M227.5 456.7V589.5H260V523.3H280"/>
<g><use href="#dot" x="75.7" y="476.3"/><use href="#dot" x="128.3" y="476.3"/><use href="#dot" x="181.3" y="476.3"/><use href="#dot" x="75.7" y="509.3"/><use href="#dot" x="128.3" y="509.3"/><use href="#dot" x="181.3" y="509.3"/><use href="#dot" x="75.7" y="542.3"/><use href="#dot" x="128.3" y="542.3"/><use href="#dot" x="181.3" y="542.3"/><use href="#dot" x="75.7" y="575.3"/><use href="#dot" x="128.3" y="575.3"/><use href="#dot" x="181.3" y="575.3"/><use href="#dot" x="68.5" y="490"/><use href="#dot" x="68.5" y="523.3"/><use href="#dot" x="121.5" y="456.7"/><use href="#dot" x="121.5" y="490"/><use href="#dot" x="121.5" y="523.3"/><use href="#dot" x="174.5" y="490"/><use href="#dot" x="174.5" y="523.3"/><use href="#dot" x="227.5" y="490"/><use href="#dot" x="227.5" y="523.3"/></g>
<g class="d" text-anchor="middle"><text x="45" y="470">KEY1</text><text x="99" y="470">KEY2</text><text x="151" y="470">KEY3</text><text x="204" y="470">KEY4</text><text x="45" y="503">KEY5</text><text x="99" y="503">KEY6</text><text x="151" y="503">KEY7</text><text x="204" y="503">KEY8</text><text x="45" y="536">KEY9</text><text x="99" y="536">KEY10</text><text x="151" y="536">KEY11</text><text x="204" y="536">KEY12</text><text x="45" y="569">KEY13</text><text x="99" y="569">KEY14</text><text x="151" y="569">KEY15</text><text x="204" y="569">KEY16</text></g>
<g class="n"><text x="267" y="474">P1.0</text><text x="267" y="481">P1.1</text><text x="267" y="488">P1.2</text><text x="267" y="495">P1.3</text><text x="267" y="501">P1.4</text><text x="267" y="508">P1.5</text><text x="267" y="514">P1.6</text><text x="267" y="521">P1.7</text></g>
<text class="h" x="130" y="602">矩阵键盘</text>

<!-- U1 -->
<rect class="y" x="313.5" y="450.5" width="25" height="52"/>
<path class="k" d="M339 456H355M339 470H355M339 483H355M339 496H355"/>
<path class="w" d="M355 456H367M355 470H367M355 483H372M355 496H372"/>
<path class="m" d="M362 456H367M367 452V460M362 470H367"/><use href="#gr" x="367" y="470"/>
<g class="d"><text x="313" y="448">U1</text><text x="313" y="508">MQ-2</text></g>
<g class="l" text-anchor="end"><text x="335" y="458">VCC</text><text x="335" y="471">GND</text><text x="335" y="485">DO</text><text x="335" y="498">AO</text></g>
<g class="l"><text x="345" y="454">1</text><text x="345" y="468">2</text><text x="345" y="481">3</text><text x="345" y="494">4</text></g>
<g class="n"><text x="368" y="458">VCC</text><text x="374" y="471">GND</text><text x="359" y="481">P3.4</text><text x="359" y="494">CH0</text></g>
<text class="h" x="313" y="528">烟雾检测模块</text>

<!-- U2 -->
<rect class="y" x="458.5" y="451" width="39" height="31.5"/>
<path class="w" d="M426 456H442M426 463H442M426 469.5H442M497 463H532M497 470H532M518 476V470"/>
<path class="k" d="M442 456H458M442 463H458M442 469.5H458M458 476H438.5V484M497 456H517M497 463H515M497 470H515M497 476H518"/>
<path class="m" d="M517 456V450M513 450H521"/>
<use href="#gd" x="438.5" y="484"/><use href="#dot" x="518" y="470"/>
<path d="M463 453H468" stroke="#000" stroke-width=".6"/>
<g class="d"><text x="458" y="448">U2</text><text x="458" y="488">ADC0832</text></g>
<g class="l"><text x="463" y="458">CS</text><text x="463" y="465">CH0</text><text x="463" y="471">CH1</text><text x="463" y="478">GND</text><text x="450" y="454">1</text><text x="450" y="461">2</text><text x="450" y="467">3</text><text x="450" y="474">4</text><text x="503" y="454">8</text><text x="503" y="461">7</text><text x="503" y="467">6</text><text x="503" y="474">5</text></g>
<g class="l" text-anchor="end"><text x="493" y="458">VCC</text><text x="493" y="465">CLK</text><text x="493" y="471">DO</text><text x="493" y="478">DI</text></g>
<g class="n"><text x="431" y="454">P3.5</text><text x="431" y="461">CH0</text><text x="431" y="467">CH1</text><text x="512" y="448">VCC</text><text x="512" y="461">P3.6</text><text x="512" y="467">P3.7</text><text x="432" y="494">GND</text></g>
<text class="h" x="460" y="515" style="fill:#4444a4;font-weight:bold">A/D转换电路</text>

<!-- U3 -->
<rect class="y" x="591.5" y="450.5" width="25.5" height="38.5"/>
<path class="k" d="M617 456H634M617 470H634M617 483H634"/>
<path class="w" d="M634 456H650M634 470H650M634 483H650"/>
<path class="m" d="M645 456H650M650 452V460M645 470H650"/><use href="#gr" x="650" y="470"/>
<g class="d"><text x="591" y="448">U3</text><text x="591" y="495">DS18B20</text></g>
<g class="l" text-anchor="end"><text x="613" y="458">VCC</text><text x="613" y="471">GND</text><text x="613" y="485">OUT</text></g>
<g class="l"><text x="622" y="454">1</text><text x="622" y="468">2</text><text x="622" y="481">3</text></g>
<g class="n"><text x="651" y="458">VCC</text><text x="657" y="471">GND</text><text x="637" y="481">P3.3</text></g>
<text class="h" x="591" y="515">温度检测模块</text>

<!-- U4 -->
<rect class="y" x="696.5" y="450.5" width="25.5" height="52"/>
<path class="k" d="M722 456H738M722 470H738M722 483H738M722 496H736"/>
<path class="w" d="M738 456H749M738 470H749M738 483H757"/>
<path class="m" d="M744 456H749.5M749.5 452V460M744 470H749"/><use href="#gr" x="749" y="470"/><use href="#xx" x="736" y="496"/>
<g class="d"><text x="696" y="448">U4</text><text x="696" y="508">YS-17</text></g>
<g class="l" text-anchor="end"><text x="718" y="458">VCC</text><text x="718" y="471">GND</text><text x="718" y="485">DO</text><text x="718" y="498">AO</text></g>
<g class="l"><text x="728" y="454">1</text><text x="728" y="468">2</text><text x="728" y="481">3</text><text x="728" y="494">4</text></g>
<g class="n"><text x="751" y="458">VCC</text><text x="757" y="471">GND</text><text x="741" y="481">P2.0</text></g>
<text class="h" x="696" y="528">火焰检测模块</text>

<!-- U5 -->
<rect class="y" x="802.5" y="450.5" width="25.5" height="38.5"/>
<path class="k" d="M828 456H844M828 470H844M828 483H844"/>
<path class="w" d="M844 456H855M844 470H855M844 483H862"/>
<path class="m" d="M850 456H855M855 452V460M850 470H855"/><use href="#gr" x="855" y="470"/>
<g class="d"><text x="802" y="448">U5</text><text x="802" y="495">D203S</text></g>
<g class="l" text-anchor="end"><text x="824" y="458">VCC</text><text x="824" y="471">GND</text><text x="824" y="485">OUT</text></g>
<g class="l"><text x="834" y="454">1</text><text x="834" y="468">2</text><text x="834" y="481">3</text></g>
<g class="n"><text x="857" y="458">VCC</text><text x="863" y="471">GND</text><text x="849" y="481">P3.2</text></g>
<text class="h" x="803" y="515">人体热释电感应模块</text>

<!-- U6 -->
<rect class="y" x="908.5" y="450.5" width="38.5" height="52"/>
<path class="k" d="M947 456H962M947 470H962M947 483H959M947 496H959"/>
<path class="w" d="M962 456H967M962 470H967M962 483H982M962 496H982"/>
<path class="m" d="M962 456H967M967 452V460M962 470H967"/><use href="#gr" x="967" y="470"/>
<g class="d"><text x="908" y="448">U6</text><text x="908" y="508">Bluetooth</text></g>
<g class="l" text-anchor="end"><text x="943" y="458">VCC</text><text x="943" y="471">GND</text><text x="943" y="485">TXD</text><text x="943" y="498">RXD</text></g>
<g class="l"><text x="953" y="454">1</text><text x="953" y="468">2</text><text x="953" y="481">3</text><text x="953" y="494">4</text><text transform="translate(920 489) rotate(-90)">Bluetooth</text></g>
<g class="n"><text x="969" y="458">VCC</text><text x="975" y="471">GND</text><text x="968" y="481">P3.0</text><text x="968" y="494">P3.1</text></g>
<text class="h" x="908" y="528">蓝牙模块</text>

<!-- bottom -->
<rect class="y" x="353.5" y="582.5" width="31.5" height="39"/>
<path class="k" d="M387 589.5H413M387 615.5H413M358 575V582M358 622V628"/>
<use href="#xx" x="358" y="575"/><use href="#xx" x="358" y="628"/>
<g class="l"><text x="372" y="590">VCC</text><text x="372" y="616">GND</text><text transform="translate(361 590) rotate(-90)">IN</text><text transform="translate(361 618) rotate(-90)">IN</text></g>
<g class="d"><text x="392" y="586">VCC_OUT</text><text x="392" y="613">GND_OUT</text><text x="368" y="627">TYPE-C-2P</text></g>

<use href="#relay"/><use href="#relay" x="132"/><use href="#relay" x="264"/>
<g class="n" text-anchor="middle"><text x="465" y="553">GND</text><text x="597" y="553">GND</text><text x="729" y="553">GND</text><text x="465" y="681">VCC</text><text x="597" y="681">VCC</text><text x="729" y="681">VCC</text><text x="398" y="640">P2.3</text><text x="530" y="640">P2.2</text><text x="662" y="640">P2.1</text></g>
<g class="d">
<text x="419" y="638">1K</text><text x="551" y="638">1K</text><text x="683" y="638">1K</text>
<text x="465" y="647">PNP</text><text x="597" y="647">PNP</text><text x="729" y="647">PNP</text>
<text x="477" y="612">SRD-05VDC-SL-C</text><text x="609" y="612">SRD-05VDC-SL-C</text><text x="741" y="612">SRD-05VDC-SL-C</text>
<text transform="translate(450 612) rotate(-90)">IN4007</text><text transform="translate(582 612) rotate(-90)">IN4007</text><text transform="translate(714 612) rotate(-90)">IN4007</text>
<text transform="translate(470 608) rotate(-90)">LED</text><text transform="translate(602 608) rotate(-90)">LED</text><text transform="translate(734 608) rotate(-90)">LED</text>
<text transform="translate(461 619) rotate(-90)">1K</text><text transform="translate(593 619) rotate(-90)">1K</text><text transform="translate(725 619) rotate(-90)">1K</text>
<text transform="translate(509 585) rotate(-90)">VCC_OUT</text><text transform="translate(641 585) rotate(-90)">VCC_OUT</text><text transform="translate(773 585) rotate(-90)">VCC_OUT</text>
<text transform="translate(503 655) rotate(-90)">GND_OUT</text><text transform="translate(635 655) rotate(-90)">GND_OUT</text><text transform="translate(767 655) rotate(-90)">GND_OUT</text>
<text x="782" y="640">JK1</text><text x="782" y="647">SRD-05</text>
</g>
<text class="h" x="564" y="701">继电器控制电路</text>

<text transform="translate(0 77) scale(.85 1)" x="11.8 74.6 116.7 169.4 208.7 228.8 264.1" y="0" style="font-family:'Liberation Sans',sans-serif;font-size:64px;fill:#10fcc8;stroke:#10fcc8;stroke-width:2.8;stroke-linejoin:round;stroke-linecap:round">MCUclub</text>
</svg>
</body></html>
